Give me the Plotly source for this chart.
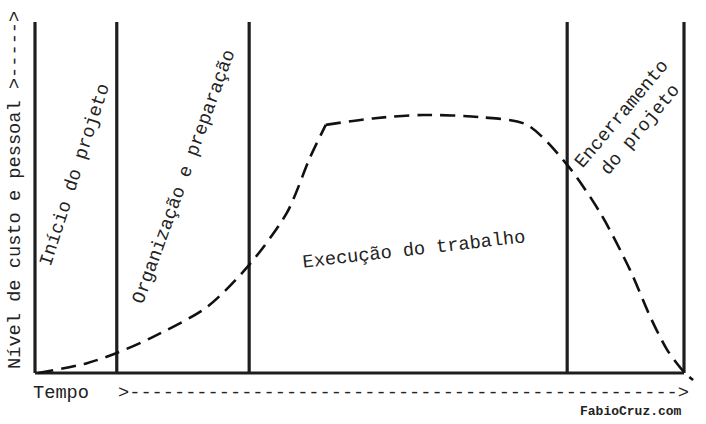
import plotly.graph_objects as go

# ---- data ----
phase_bounds = [0, 12.6, 33.0, 82.0, 100]
# rising branch (up to the corner where execution peaks)
rise_time = [0.5, 8.0, 12.6, 18.2, 26.5, 33.0, 38.8, 42.4, 44.8]
rise_level = [0.0, 2.8, 5.7, 10.3, 18.8, 30.8, 45.6, 61.5, 70.7]
# plateau and decline
fall_time = [44.8, 52.4, 59.8, 68.6, 75.8, 82.0, 87.1, 91.7, 94.8, 97.4, 100.0, 101.4]
fall_level = [70.7, 72.6, 73.5, 72.9, 70.7, 59.3, 45.6, 29.3, 16.0, 6.6, 0.3, -2.0]
phase_labels = ["Início do projeto", "Organização e preparação", "Execução do trabalho", "Encerramento<br>do projeto"]
x_label = "Tempo"
y_label = "Nível de custo e pessoal >----->"
time_arrow = ">" + "-" * 49 + ">"
credit = "FabioCruz.com"

# ---- geometry (pixel -> data) ----
W, H = 706, 424
px_x0, px_x100 = 35, 684
px_y0, px_y100 = 373, 22
sx = (px_x100 - px_x0) / 100.0
sy = (px_y0 - px_y100) / 100.0
def dx(px):
    return (px - px_x0) / sx
def dy(py):
    return (px_y0 - py) / sy

FONT = "Courier New, Liberation Mono, monospace"
INK = "#1e1e1e"

fig = go.Figure()

# baseline
fig.add_trace(go.Scatter(x=[phase_bounds[0], phase_bounds[-1]], y=[0, 0], mode="lines",
                         line=dict(color=INK, width=3), hoverinfo="skip", showlegend=False))
# phase boundaries
for b in phase_bounds:
    fig.add_trace(go.Scatter(x=[b, b], y=[0, 100], mode="lines",
                             line=dict(color=INK, width=3.2), hoverinfo="skip", showlegend=False))
# effort curve
for xs, ys in ((rise_time, rise_level), (fall_time, fall_level)):
    fig.add_trace(go.Scatter(x=xs, y=ys, mode="lines",
                             line=dict(color="#111111", width=2.6, dash="15px,8px",
                                       shape="spline", smoothing=0.8),
                             hoverinfo="skip", showlegend=False))

fs = 18.67
ann = [
    dict(text=phase_labels[0], x=dx(75), y=dy(175), textangle=-72),
    dict(text=phase_labels[1], x=dx(184), y=dy(177), textangle=-70),
    dict(text=phase_labels[2], x=dx(414), y=dy(250), textangle=-6.5),
    dict(text=phase_labels[3], x=dx(631), y=dy(122), textangle=-50),
    dict(text=x_label, x=dx(61), y=dy(393), textangle=0),
    dict(text=time_arrow, x=dx(403.5), y=dy(393), textangle=0),
    dict(text=y_label, x=dx(15), y=dy(190), textangle=-90),
]
for a in ann:
    fig.add_annotation(x=a["x"], y=a["y"], text=a["text"], textangle=a["textangle"],
                       showarrow=False, xref="x", yref="y",
                       font=dict(family=FONT, size=fs, color="#222222"))
fig.add_annotation(x=dx(631), y=dy(411), text="<b>" + credit + "</b>", showarrow=False,
                   xref="x", yref="y", font=dict(family=FONT, size=13, color="#222222"))

fig.update_layout(
    width=W, height=H, margin=dict(l=0, r=0, t=0, b=0),
    paper_bgcolor="white", plot_bgcolor="white",
    xaxis=dict(range=[dx(0), dx(W)], visible=False, fixedrange=True),
    yaxis=dict(range=[dy(H), dy(0)], visible=False, fixedrange=True),
    showlegend=False,
)
fig.write_html("out.html", config={"displayModeBar": False})
